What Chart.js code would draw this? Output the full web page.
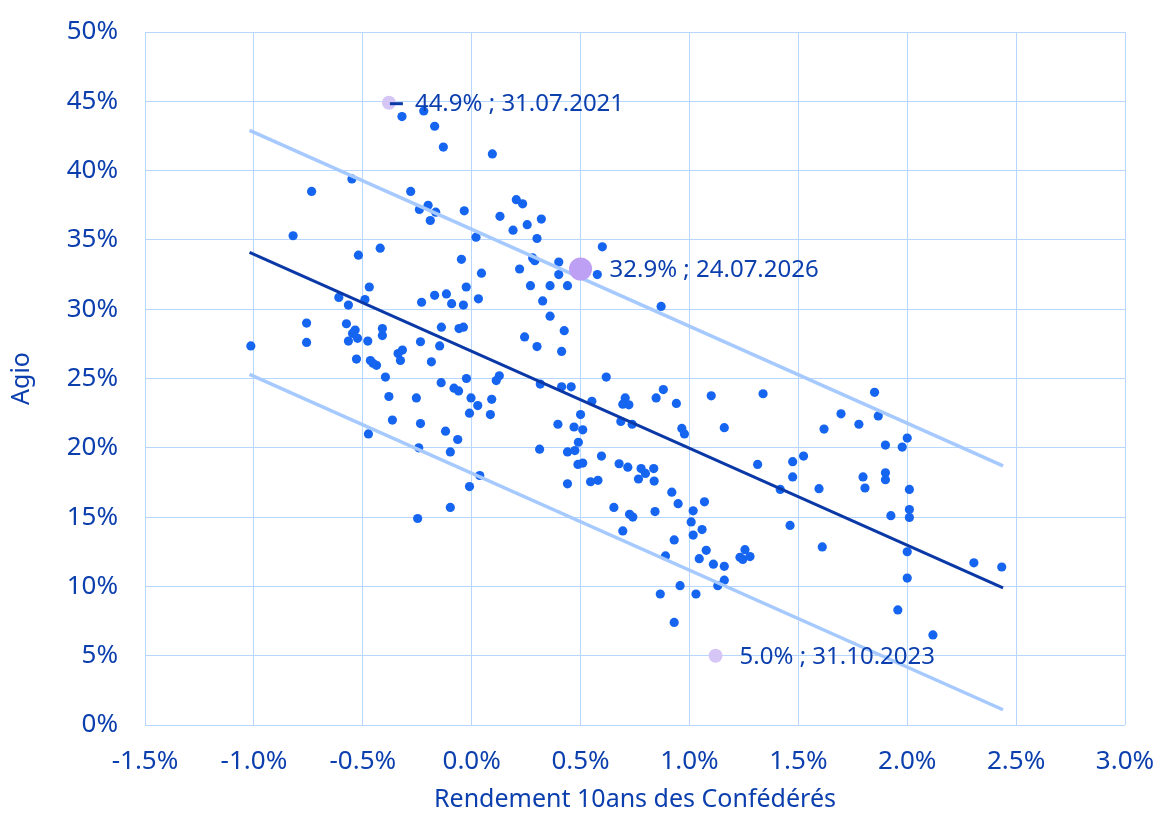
<!DOCTYPE html>
<html>
<head>
<meta charset="utf-8">
<script src="https://cdn.jsdelivr.net/npm/chart.js@4"></script>
<style>
  html, body { margin: 0; padding: 0; background: #fff; }
  #wrap { width: 1163px; height: 815px; }
</style>
</head>
<body>
<div id="wrap"><canvas id="agioChart" width="1163" height="815"></canvas></div>
<script>
// Rendement 10 ans (%) / Agio (%) - observations
var obsX = [-0.32, -0.22, -0.17, -0.13, 0.095, -0.55, -0.735, -0.28, -0.24, -0.20, -0.19, -0.165, -0.82, -0.42, -0.52, -0.47,
    0.205, 0.234, -0.034, 0.13, 0.32, 0.255, 0.19, 0.30, 0.02, 0.60, -0.047, 0.28, 0.29, 0.40, 0.045, 0.22, 0.40, 0.577,
    -0.025, 0.27, 0.36, 0.44, -0.17, -0.116, -0.092, -0.038, 0.031, 0.326, 0.36, 0.425, 0.243, 0.30, 0.413, -0.139, -0.058,
    -0.038, -0.147, -0.185, 0.618, 0.127, 0.113, -0.024, -0.14, -0.081, -0.06, 0.315, 0.413, 0.457, 0.552, 0.705, 0.694,
    -0.003, 0.092, 0.028, -0.01, 0.086, 0.50, 0.685, 0.396, 0.47, 0.51, -0.12, -0.064, 0.49, 0.312, 0.44, 0.474, -0.098,
    0.596, 0.488, 0.51, 0.677, -0.61, -0.49, -0.566, -0.23, -0.758, -0.575, -0.535, -0.547, -0.41, -0.41, -0.524, -0.566,
    -0.477, -1.014, -0.758, -0.235, -0.318, -0.338, -0.327, -0.529, -0.465, -0.453, -0.437, -0.396, -0.38, -0.254, -0.364,
    -0.235, -0.474, -0.243, -0.248, -0.098, -0.01, 0.037, 0.44, 0.546, 0.58, 0.653, 0.725, 0.694, 0.717, 0.87, 0.88, 0.847,
    0.722, 0.94, 1.10, 1.338, 0.737, 0.965, 0.977, 1.16, 1.313, 1.474, 1.524, 0.778, 0.836, 1.85, 1.696, 1.867, 1.778,
    1.618, 2.0, 1.90, 1.977, 1.797, 1.90, 1.90, 1.595, 1.806, 2.01, 2.01, 2.01, 1.925, 1.61, 2.0, 0.798, 0.766, 0.838,
    1.474, 0.919, 0.948, 1.069, 0.74, 0.842, 1.017, 1.008, 1.058, 1.017, 1.417, 1.462, 0.93, 0.89, 1.077, 1.045, 1.11,
    1.16, 1.255, 1.232, 1.245, 1.278, 1.16, 1.13, 0.957, 0.866, 1.03, 0.93, 2.0, 2.306, 2.434, 1.957, 2.118];
var obsY = [43.9, 44.3, 43.2, 41.7, 41.2, 39.4, 38.5, 38.5, 37.2, 37.5, 36.4, 37.0, 35.3, 34.4, 33.9, 31.6,
    37.9, 37.6, 37.1, 36.7, 36.5, 36.1, 35.7, 35.1, 35.2, 34.5, 33.6, 33.7, 33.5, 33.4, 32.6, 32.9, 32.5, 32.5,
    31.6, 31.7, 31.7, 31.7, 31.0, 31.1, 30.4, 30.3, 30.75, 30.6, 29.5, 28.45, 28.0, 27.3, 26.95, 28.7, 28.6,
    28.7, 27.35, 26.2, 25.1, 25.2, 24.85, 25.0, 24.7, 24.3, 24.1, 24.6, 24.4, 24.4, 23.35, 23.6, 23.15,
    23.6, 23.5, 23.05, 22.5, 22.4, 22.4, 21.9, 21.7, 21.5, 21.3, 21.2, 20.6, 20.4, 19.9, 19.7, 19.8, 19.7,
    19.4, 18.8, 18.9, 18.85, 30.85, 30.7, 30.3, 30.5, 29.0, 28.95, 28.5, 28.25, 28.6, 28.1, 27.9, 27.7,
    27.7, 27.35, 27.6, 27.65, 27.05, 26.8, 26.3, 26.4, 26.3, 26.1, 25.95, 25.1, 23.7, 23.6, 22.0,
    21.75, 21.0, 20.0, 14.9, 15.7, 17.2, 18.0, 17.4, 17.55, 17.65, 15.7, 15.2, 14.0, 18.6, 30.2, 24.2, 23.6,
    23.1, 23.2, 23.75, 23.9, 21.7, 21.4, 21.0, 21.45, 18.8, 19.0, 19.4, 18.5, 18.5, 24.0, 22.45, 22.3, 21.7,
    21.35, 20.7, 20.2, 20.05, 17.9, 18.2, 17.7, 17.05, 17.1, 17.0, 15.55, 14.97, 15.1, 12.85, 12.5, 18.15, 17.75, 17.6,
    17.9, 16.8, 15.97, 16.1, 15.0, 15.4, 15.45, 14.65, 14.1, 13.7, 17.0, 14.4, 13.35, 12.2, 12.6, 12.0, 11.6,
    11.45, 12.65, 12.1, 11.95, 12.15, 10.45, 10.05, 10.05, 9.45, 9.45, 7.4, 10.6, 11.7, 11.4, 8.3, 6.5];

// régression et bandes
var fitX = [-1.02, 2.44];
var fitMid = [34.1, 9.9];
var fitUpper = [42.9, 18.7];
var fitLower = [25.3, 1.1];

// points marqués
var markX = [-0.38, 1.12, 0.5];
var markY = [44.9, 5.0, 32.9];
var markLabels = ['44.9% ; 31.07.2021', '5.0% ; 31.10.2023', '32.9% ; 24.07.2026'];

var xTicks = [-1.5, -1.0, -0.5, 0.0, 0.5, 1.0, 1.5, 2.0, 2.5, 3.0];

var TXT = '#0c3fae';
var FONT = '"Noto Sans", "Open Sans", sans-serif';

function pairs(xs, ys) {
    return xs.map(function(x, i) { return { x: x, y: ys[i] }; });
}

var markLabelPlugin = {
    id: 'markLabels',
    afterDatasetsDraw: function(chart) {
        var meta = chart.getDatasetMeta(4);
        var c = chart.ctx;
        c.save();
        c.font = '24px ' + FONT;
        c.fillStyle = TXT;
        c.textBaseline = 'middle';
        meta.data.forEach(function(pt, i) {
            var off = i === 2 ? 29 : (i === 0 ? 26 : 24);
            if (i === 0) {
                c.strokeStyle = '#0a3aa8';
                c.lineWidth = 3;
                c.beginPath();
                c.moveTo(pt.x + 1, pt.y + 1);
                c.lineTo(pt.x + 14, pt.y + 1);
                c.stroke();
            }
            c.fillText(markLabels[i], pt.x + off, pt.y + 1);
        });
        c.restore();
    }
};

var ctx = document.getElementById('agioChart');
new Chart(ctx, {
    type: 'scatter',
    data: {
        datasets: [{
            label: 'Observations',
            data: pairs(obsX, obsY),
            backgroundColor: '#1565f0',
            borderWidth: 0,
            pointRadius: 4.6,
            order: 5
        }, {
            label: 'Régression',
            type: 'line',
            data: pairs(fitX, fitMid),
            borderColor: '#0a38a6',
            borderWidth: 3,
            pointRadius: 0,
            fill: false,
            order: 3
        }, {
            label: 'Bande haute',
            type: 'line',
            data: pairs(fitX, fitUpper),
            borderColor: '#a6caff',
            borderWidth: 3.5,
            pointRadius: 0,
            fill: false,
            order: 4
        }, {
            label: 'Bande basse',
            type: 'line',
            data: pairs(fitX, fitLower),
            borderColor: '#a6caff',
            borderWidth: 3.5,
            pointRadius: 0,
            fill: false,
            order: 4
        }, {
            label: 'Marques',
            data: pairs(markX, markY),
            backgroundColor: ['#d6c6f6', '#d6c6f6', '#bd9ff3'],
            borderWidth: 0,
            pointRadius: [7, 7, 11.5],
            order: 1
        }]
    },
    options: {
        responsive: false,
        animation: false,
        devicePixelRatio: 1,
        layout: { padding: { top: 32, right: 38, left: 0, bottom: 0 } },
        plugins: { legend: { display: false }, tooltip: { enabled: false } },
        scales: {
            x: {
                type: 'linear',
                min: -1.5, max: 3.0,
                afterBuildTicks: function(s) { s.ticks = xTicks.map(function(v) { return { value: v }; }); },
                afterFit: function(s) { s.height = 90; s.paddingLeft = 0; s.paddingRight = 0; },
                grid: { color: '#b8d7ff', lineWidth: 1, drawTicks: false },
                border: { display: false },
                ticks: {
                    color: TXT, padding: 21,
                    font: { family: FONT, size: 26 },
                    callback: function(v) { return v.toFixed(1) + '%'; }
                },
                title: {
                    display: true, text: 'Rendement 10ans des Confédérés', color: TXT,
                    font: { family: FONT, size: 25 }, padding: { top: 0, bottom: 0 }
                }
            },
            y: {
                min: 0, max: 50,
                afterFit: function(s) { s.width = 145; s.paddingTop = 0; s.paddingBottom = 0; },
                grid: { color: '#b8d7ff', lineWidth: 1, drawTicks: false },
                border: { display: false },
                ticks: {
                    color: TXT, padding: 27, stepSize: 5,
                    font: { family: FONT, size: 26 },
                    callback: function(v) { return v + '%'; }
                },
                title: {
                    display: true, text: 'Agio', color: TXT,
                    font: { family: FONT, size: 25 }, padding: { top: 7, bottom: 0 }
                }
            }
        }
    },
    plugins: [markLabelPlugin]
});
</script>
</body>
</html>
